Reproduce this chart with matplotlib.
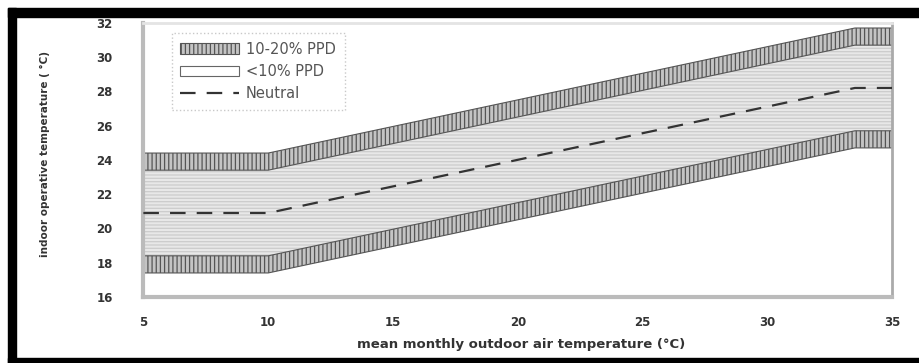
import numpy as np
import matplotlib
matplotlib.use('Agg')
import matplotlib.pyplot as plt
from matplotlib.patches import Patch, Rectangle
from matplotlib.lines import Line2D

# values
outdoor = [5, 10, 33.5, 35]
neutral = [20.9, 20.9, 28.2, 28.2]
upper90 = [23.4, 23.4, 30.7, 30.7]
lower90 = [18.4, 18.4, 25.7, 25.7]
upper80 = [24.4, 24.4, 31.7, 31.7]
lower80 = [17.4, 17.4, 24.7, 24.7]
xticks = [5, 10, 15, 20, 25, 30, 35]
yticks = [16, 18, 20, 22, 24, 26, 28, 30, 32]
legend_labels = ['10-20% PPD', '<10% PPD', 'Neutral']

plt.rcParams['hatch.linewidth'] = 0.9
plt.rcParams['font.family'] = 'DejaVu Sans'

fig = plt.figure(figsize=(9.19, 3.63), dpi=100)
ax = fig.add_axes([0.156, 0.182, 0.815, 0.755])

# <10% PPD band (light grey, horizontal lines)
ax.fill_between(outdoor, lower90, upper90, facecolor='#e8e8e8', edgecolor='#cccccc',
                hatch='-----', linewidth=0, zorder=1)
# 10-20% PPD bands (vertical hatch)
for lo, hi in [(upper90, upper80), (lower80, lower90)]:
    ax.fill_between(outdoor, lo, hi, facecolor='#c4c4c4', edgecolor='#555555',
                    hatch='||||', linewidth=0.8, zorder=2)
ax.plot(outdoor, neutral, color='#333333', lw=1.6, linestyle=(0, (7, 5)), zorder=3)

ax.set_xlim(5, 35)
ax.set_ylim(16, 32)
ax.set_xticks(xticks)
ax.set_yticks(yticks)
ax.tick_params(length=0, labelsize=8.5, labelcolor='#333333')
ax.tick_params(axis='x', pad=14)
ax.tick_params(axis='y', pad=22)
for t in ax.get_xticklabels() + ax.get_yticklabels():
    t.set_fontweight('bold')

for side in ['left', 'bottom']:
    ax.spines[side].set_color('#bbbbbb')
    ax.spines[side].set_linewidth(3)
ax.spines['right'].set_color('#aaaaaa')
ax.spines['right'].set_linewidth(2)
ax.spines['top'].set_color('#e4e4e4')
ax.spines['top'].set_linewidth(2)

ax.set_xlabel('mean monthly outdoor air temperature (°C)', fontsize=9.5,
              fontweight='bold', color='#333333')
ax.set_ylabel('indoor operative temperature ( °C)', fontsize=7.5,
              fontweight='bold', color='#333333')
ax.xaxis.set_label_coords(0.505, -0.15)
ax.yaxis.set_label_coords(-0.125, 0.52)

handles = [Patch(facecolor='#c4c4c4', edgecolor='#555555', hatch='||||', lw=0.8),
           Patch(facecolor='white', edgecolor='#666666', lw=0.8),
           Line2D([0], [0], color='#333333', lw=1.6, linestyle=(0, (7, 5)))]
leg = ax.legend(handles, legend_labels, loc='upper left', bbox_to_anchor=(0.028, 0.99),
                fontsize=10.5, frameon=True, fancybox=False, handlelength=4,
                handleheight=0.7, handletextpad=0.5, labelspacing=0.5, borderpad=0.6)
leg.get_frame().set_edgecolor('#bbbbbb')
leg.get_frame().set_linestyle(':')
for t in leg.get_texts():
    t.set_color('#555555')

# black frame around the picture
W, H = 919, 363
fig.patches.append(Rectangle((8 / W, 1 - 17 / H), 1, 9 / H, transform=fig.transFigure,
                             color='black', zorder=10))
fig.patches.append(Rectangle((8 / W, 0), 8 / W, 1 - 8 / H, transform=fig.transFigure,
                             color='black', zorder=10))
fig.patches.append(Rectangle((8 / W, 0), 1, 5 / H, transform=fig.transFigure,
                             color='black', zorder=10))

fig.savefig('out.png', dpi=100)
